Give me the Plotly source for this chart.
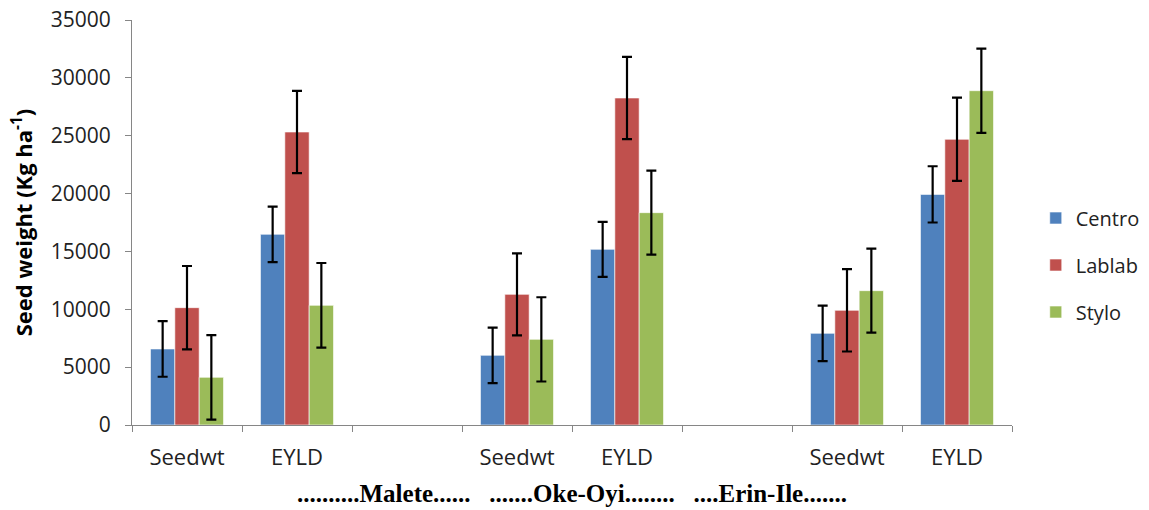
import plotly.graph_objects as go

sites = ["Malete", "Oke-Oyi", "Erin-Ile"]
traits = ["Seedwt", "EYLD"]
series = ["Centro", "Lablab", "Stylo"]

# values in order: Malete Seedwt, Malete EYLD, Oke-Oyi Seedwt, Oke-Oyi EYLD, Erin-Ile Seedwt, Erin-Ile EYLD
centro = [6570, 16480, 6020, 15180, 7920, 19930]
lablab = [10140, 25320, 11290, 28260, 9910, 24690]
stylo = [4120, 10340, 7400, 18350, 11610, 28890]

centro_err = [2400, 2400, 2400, 2380, 2400, 2430]
lablab_err = [3600, 3550, 3550, 3560, 3560, 3600]
stylo_err = [3650, 3660, 3640, 3630, 3630, 3640]

colors = ["#4F81BD", "#C0504D", "#9BBB59"]

x_title = "..........Malete......   .......Oke-Oyi........   ....Erin-Ile......."
y_title = "Seed weight (Kg ha<sup>-1</sup>)"

# build category slots (with an empty spacer slot between sites)
slots, slot_text, data_slots = [], [], []
for i, s in enumerate(sites):
    for t in traits:
        key = f"{s}|{t}"
        slots.append(key)
        slot_text.append(t)
        data_slots.append(key)
    if i < len(sites) - 1:
        key = f"{s}|gap"
        slots.append(key)
        slot_text.append("")

fig = go.Figure()
for name, vals, errs, col in zip(series, [centro, lablab, stylo],
                                 [centro_err, lablab_err, stylo_err], colors):
    fig.add_trace(go.Bar(
        name=name, x=data_slots, y=vals, marker_color=col,
        marker_line=dict(color="rgba(255,255,255,0.6)", width=1),
        legendgroup=name,
        error_y=dict(type="data", array=errs, visible=True,
                     color="#000000", thickness=2.2, width=5),
    ))

tick_font = dict(family="Open Sans, sans-serif", size=22, color="#222222")

fig.update_layout(
    width=1149, height=510,
    margin=dict(l=132, r=137, t=20, b=85, autoexpand=False),
    paper_bgcolor="white", plot_bgcolor="white",
    barmode="group", bargap=0.336, bargroupgap=0,
    font=tick_font,
    showlegend=True,
    legend=dict(x=1.027, xanchor="left", y=0.395, yanchor="middle",
                font=dict(family="Open Sans, sans-serif", size=20, color="#222222"),
                tracegroupgap=18, itemwidth=30,
                bgcolor="rgba(0,0,0,0)"),
    xaxis=dict(
        type="category", categoryorder="array", categoryarray=slots,
        tickmode="array", tickvals=slots, ticktext=slot_text,
        tickson="boundaries", ticks="outside", ticklen=6, tickcolor="#868686",
        showline=True, linecolor="#868686", linewidth=1,
        showgrid=False, range=[-0.5, len(slots) - 0.5],
        automargin=False, ticklabelstandoff=13,
        tickfont=tick_font,
        title=dict(text=f"<b>{x_title}</b>", standoff=14,
                   font=dict(family="Liberation Serif, serif", size=25, color="#000000")),
    ),
    yaxis=dict(
        range=[0, 35000], tickmode="linear", tick0=0, dtick=5000, tickformat="d",
        ticks="outside", ticklen=6, tickcolor="#868686",
        showline=True, linecolor="#868686", linewidth=1,
        showgrid=False, zeroline=False,
        automargin=False, ticklabelstandoff=10, ticklabeloverflow="allow",
        tickfont=dict(family="Open Sans, sans-serif", size=21, color="#222222"),
        title=dict(text=f"<b>{y_title}</b>", standoff=12,
                   font=dict(family="Open Sans, sans-serif", size=22, color="#000000")),
    ),
)

fig.write_html("out.html",
               config={"displayModeBar": False},
               post_script="document.body.style.margin='0';document.body.style.overflow='hidden';")
